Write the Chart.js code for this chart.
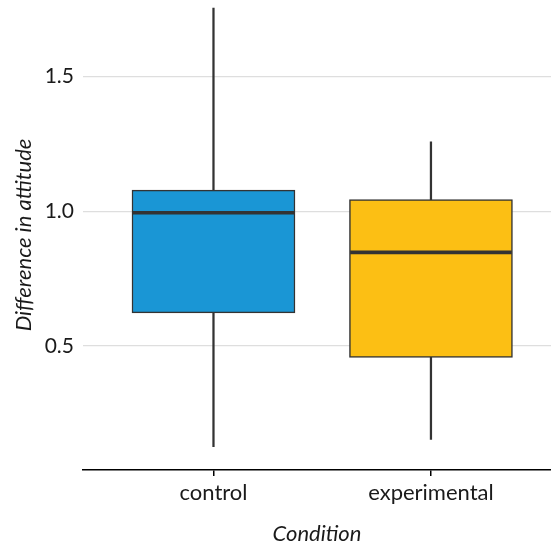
<!DOCTYPE html>
<html>
<head>
<meta charset="utf-8">
<script src="https://cdn.jsdelivr.net/npm/chart.js@4.4.1/dist/chart.umd.min.js"></script>
<style>
  body { margin: 0; background: #fff; }
  canvas { display: block; }
</style>
</head>
<body>
<canvas id="boxChart" width="551" height="547"></canvas>
<script>
// Box plot data
const conditions = ['control', 'experimental'];
const conditionPos = [1, 2];
const whiskerLow = [0.127, 0.154];
const lowerQuartile = [0.623, 0.458];
const medians = [0.994, 0.847];
const upperQuartile = [1.078, 1.043];
const whiskerHigh = [1.752, 1.257];
const boxColors = ['#1a96d5', '#fcbf14'];
const yTicks = [0.5, 1.0, 1.5];

const lineColor = '#333333';
const medianHalf = 0.0056; // half of median line thickness, in data units

const whiskerData = conditionPos.map((x, i) => ({ x: x, y: [whiskerLow[i], whiskerHigh[i]] }));
const boxData = conditionPos.map((x, i) => ({ x: x, y: [lowerQuartile[i], upperQuartile[i]] }));
const medianData = conditionPos.map((x, i) => ({ x: x, y: [medians[i] - medianHalf, medians[i] + medianHalf] }));

const chart = new Chart(document.getElementById('boxChart'), {
    type: 'bar',
    data: {
        datasets: [
            {
                label: 'whiskers',
                data: whiskerData,
                backgroundColor: lineColor,
                barThickness: 1.6,
                grouped: false,
                order: 3
            },
            {
                label: 'boxes',
                data: boxData,
                backgroundColor: boxColors,
                borderColor: lineColor,
                borderWidth: 1.5,
                borderSkipped: false,
                barThickness: 163,
                grouped: false,
                order: 2
            },
            {
                label: 'medians',
                data: medianData,
                backgroundColor: lineColor,
                barThickness: 161,
                grouped: false,
                order: 1
            }
        ]
    },
    options: {
        responsive: false,
        animation: false,
        layout: { padding: 0 },
        plugins: {
            legend: { display: false },
            tooltip: { enabled: false }
        },
        scales: {
            x: {
                type: 'linear',
                min: 0.4,
                max: 2.552,
                offset: false,
                afterBuildTicks: s => { s.ticks = conditionPos.map(v => ({ value: v })); },
                afterFit: s => { s.height = 77; s.paddingLeft = 0; s.paddingRight = 0; },
                ticks: {
                    callback: v => conditions[conditionPos.indexOf(v)],
                    color: '#1a1a1a',
                    font: { family: 'Lato', size: 22 },
                    padding: 4,
                    maxRotation: 0
                },
                grid: { offset: false, drawOnChartArea: false, drawTicks: true, tickLength: 6, color: '#000', lineWidth: 1.5 },
                border: { display: true, color: '#000', width: 1.5 },
                title: {
                    display: true,
                    text: 'Condition',
                    color: '#1a1a1a',
                    font: { family: 'Lato', size: 22, style: 'italic' },
                    padding: { top: 0, bottom: 0 }
                }
            },
            y: {
                min: 0.041,
                max: 1.782,
                afterBuildTicks: s => { s.ticks = yTicks.map(v => ({ value: v })); },
                afterFit: s => { s.width = 83; s.paddingTop = 0; s.paddingBottom = 0; },
                ticks: {
                    callback: v => v.toFixed(1),
                    color: '#1a1a1a',
                    font: { family: 'Lato', size: 21 },
                    padding: 9
                },
                grid: { drawTicks: false, color: '#dedede', lineWidth: 1.2 },
                border: { display: false },
                title: {
                    display: true,
                    text: 'Difference in attitude',
                    color: '#1a1a1a',
                    font: { family: 'Lato', size: 22, style: 'italic' },
                    padding: { top: 11, bottom: 0 }
                }
            }
        }
    }
});
</script>
</body>
</html>
